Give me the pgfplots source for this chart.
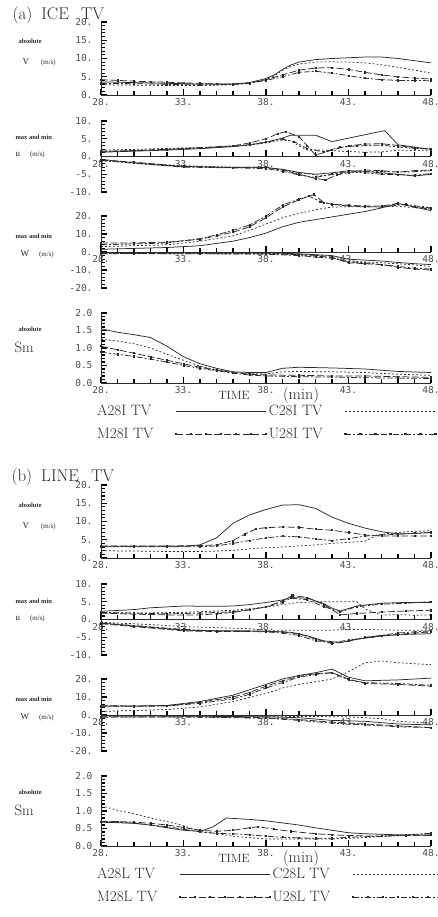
\documentclass[border=0pt]{standalone}
\usepackage{fontspec}
\usepackage{pgfplots}
\pgfplotsset{compat=1.18}
\newfontfamily\tickfont{DejaVu Sans Mono}
\newfontfamily\lblfont{Liberation Serif}
\definecolor{ink}{HTML}{2A2A2A}
\pgfplotsset{
 base/.style={
   scale only axis, width=330pt,
   xmin=28, xmax=48, clip=false,
   axis x line*=middle, axis y line*=left,
   axis line style={ink, line width=0.9pt},
   xtick={28,33,38,43,48}, minor x tick num=4,
   xticklabel={\pgfmathprintnumber{\tick}.},
   hide obscured x ticks=false, hide obscured y ticks=false,
   tick align=inside,
   major tick length=6pt, minor tick length=4.2pt,
   tick style={black, line width=1.1pt},
   ticklabel style={font=\tickfont\fontsize{9.5}{10}\selectfont, text=black!70},
   yticklabel style={xshift=-5pt},
   /pgf/number format/assume math mode=true,
   anchor=south west,
 },
 intlab/.style={yticklabel={\pgfmathprintnumber{\tick}.}},
 vax/.style={base, intlab, ymin=0, ymax=20, ytick={0,5,...,20}, minor y tick num=4, height=73pt},
 uax/.style={base, intlab, ymin=-10, ymax=10, ytick={-10,-5,...,10}, minor y tick num=4, height=71pt},
 wax/.style={base, intlab, ymin=-20, ymax=20, ytick={-20,-10,...,20}, minor y tick num=4, height=72pt},
 sax/.style={base, ymin=0, ymax=2, ytick={0,0.5,...,2}, minor y tick num=4, height=70pt,
   yticklabel={\pgfmathprintnumber[fixed,fixed zerofill,precision=1]{\tick}},
   legend columns=2, legend plot pos=right, legend cell align=left,
   legend style={draw=none, fill=none, at={(axis description cs:0,0)}, anchor=north west,
     xshift=-6pt, yshift=-20pt, font=\fontsize{15}{15}\selectfont, text=ink, row sep=7pt, inner sep=0pt,
     /tikz/every odd column/.append style={column sep=20pt},
     /tikz/every even column/.append style={column sep=0pt}},
   legend image code/.code={\draw[##1] plot coordinates {(0pt,0pt) (15pt,0pt) (30pt,0pt) (45pt,0pt) (60pt,0pt) (75pt,0pt) (90pt,0pt)};},
 },
 sA/.style={ink, solid, line width=0.75pt, mark=none},
 sC/.style={ink, dash pattern=on 1.8pt off 2.2pt, line width=0.75pt, mark=none},
 sM/.style={ink, dash pattern=on 7pt off 2.5pt, line width=0.75pt, mark=square*, mark size=0.6pt, mark options={solid}},
 sU/.style={ink, dash pattern=on 6pt off 2pt on 2pt off 2pt, line width=0.75pt, mark=square*, mark size=0.6pt, mark options={solid}},
}
\newcommand\smalllab[2]{\node[font=\lblfont\bfseries\fontsize{6.5}{7}\selectfont, text=ink, anchor=base west] at (#1) {#2};}
\newcommand\varlab[3]{\node[anchor=base west, text=ink, font=\lblfont] at (#1) {\fontsize{9}{9}\selectfont #2\hspace{#3}\fontsize{7}{7}\selectfont(m/s)};}
\begin{document}
\begin{tikzpicture}
%================ PANEL (a) ================
\begin{axis}[vax, at={(101pt,-95pt)}]
\addplot[sA] coordinates {(28,3.6)(29,3.5)(30,3.4)(31,3.3)(32,3.2)(33,3.1)(34,3.0)(35,3.0)(36,3.0)(37,3.4)(38,4.5)(38.5,5.5)(39,7)(39.5,8.2)(40,9)(41,9.7)(42,10)(43,10.2)(44,10.4)(45,10.4)(46,10)(47,9.4)(48,8.8)};
\addplot[sC] coordinates {(28,2.8)(30,2.7)(32,2.6)(34,2.6)(36,2.8)(37,3.2)(38,4.2)(38.5,5.2)(39,6.8)(39.5,7.8)(40,8.5)(41,9)(42,9.1)(43,9.0)(44,8.8)(45,8.3)(46,7.6)(47,6.8)(48,6)};
\addplot[sM] coordinates {(28,4.2)(29,4.0)(30,3.8)(31,3.6)(32,3.5)(33,3.3)(34,3.2)(35,3.0)(36,3.0)(37,3.3)(38,4.2)(39,5.5)(40,6.8)(41,7.4)(42,7.5)(43,7)(44,6.2)(45,5.5)(46,5)(47,4.6)(48,4.4)};
\addplot[sU] coordinates {(28,3.2)(30,3.1)(32,2.9)(34,2.8)(36,2.9)(37,3.2)(38,4)(39,5)(40,6.2)(41,6.5)(42,6)(43,5.3)(44,4.6)(45,4.2)(46,4)(47,4)(48,3.9)};
\end{axis}
\begin{axis}[uax, at={(101pt,-192pt)}]
\addplot[sA] coordinates {(28,1.2)(30,1.5)(32,1.8)(34,2.2)(36,2.8)(37,3.3)(38,4)(39,5.2)(39.5,6)(41,6)(42,4.2)(45.2,7.3)(46,3.3)(48,2)};
\addplot[sC] coordinates {(28,1.8)(30,2)(32,2.3)(34,2.5)(36,2.8)(37,3.2)(38,3.8)(39,4.6)(39.5,4.4)(40,3)(40.5,1.8)(41.5,1.8)(42.5,1.5)(44,1.2)(45,1.3)(46,1.8)(48,1.6)};
\addplot[sM] coordinates {(28,1.5)(30,1.7)(32,2)(34,2.5)(36,3)(37,3.8)(38,5)(38.7,6.4)(39.2,7)(40,5.6)(40.5,3)(41,0.4)(42,1.8)(43,3)(44,3.5)(45,3.6)(46,3.1)(47,2.4)(48,2)};
\addplot[sU] coordinates {(28,1.3)(30,1.6)(32,2)(34,2.4)(36,2.9)(37,3.3)(38,4.1)(39,4.9)(39.7,4.2)(40.5,2.2)(41.5,1.3)(42.5,2.6)(43.5,3)(45,3.2)(46,2.7)(47,2.3)(48,2.2)};
\addplot[sA] coordinates {(28,-0.8)(29,-1.3)(30,-1.8)(31,-2.2)(33,-2.8)(35,-3)(37,-3)(38,-3.1)(39,-3.6)(40,-4.5)(41,-5)(42,-4.6)(43,-4)(44,-4.2)(45,-4.6)(46,-5)(47,-5.5)(48,-5)};
\addplot[sC] coordinates {(28,-1.2)(30,-1.8)(33,-2.6)(36,-3)(38,-3.2)(39,-3.8)(40,-4.6)(41.5,-5.4)(43,-4.5)(45,-4.2)(46.5,-4.4)(48,-4)};
\addplot[sM] coordinates {(28,-1)(30,-1.6)(33,-2.8)(36,-3.1)(38,-3)(39,-3.8)(40,-5)(41,-6.2)(41.6,-6.6)(42.3,-5.2)(43,-4.5)(44,-3.8)(45,-4)(46,-4.4)(47,-4)(48,-3.8)};
\addplot[sU] coordinates {(28,-1.1)(30,-1.9)(33,-3)(36,-3.2)(38,-3.4)(39,-4.2)(40,-5.2)(41,-5.9)(42,-5)(43,-4.2)(44,-4.6)(45,-5)(46,-5.1)(47,-5.3)(48,-4.8)};
\end{axis}
\begin{axis}[wax, at={(101pt,-288pt)}]
\addplot[sA] coordinates {(28,1.5)(30,2)(32,2.5)(34,3.5)(36,6)(37,8)(38,10.5)(39,14)(40,16.5)(41,18)(42,19.5)(43,21)(44,22.5)(45,24.5)(46,27)(47,25)(48,23)};
\addplot[sC] coordinates {(28,3)(30,3.5)(32,4)(34,6)(36,9)(37,12)(38,15.5)(39,19)(40,21.5)(41,23.5)(42,25)(43,25.2)(44,25)(45,25)(46,25.5)(47,24.5)(48,24)};
\addplot[sM] coordinates {(28,5)(30,5)(32,5.5)(34,7)(35,9)(36,11)(37,14)(38,19)(39,25)(40,29)(40.9,32)(41.5,27.5)(42,26.5)(43,26)(44,25.5)(45,25.5)(46,27)(47,25)(48,24)};
\addplot[sU] coordinates {(28,4)(30,4.5)(32,5)(34,7.5)(35,9.5)(36,12)(37,15)(38,20)(39,26)(40,29.5)(40.6,31)(41.3,28)(42,26.5)(43,25.5)(44,25.2)(45,25)(46.5,26.5)(47.5,25)(48,24.5)};
\addplot[sA] coordinates {(28,-0.3)(34,-0.5)(38,-0.5)(40,-1)(41,-1.5)(42,-2)(43,-4)(44,-4.5)(45,-5)(46,-5.8)(47,-6.5)(48,-7)};
\addplot[sC] coordinates {(28,-0.5)(34,-0.7)(38,-0.8)(40,-1.2)(41,-1.8)(42,-2.5)(43,-5)(44,-5.5)(45,-6)(46,-6.5)(47,-7.2)(48,-8)};
\addplot[sM] coordinates {(28,-1)(30,-0.8)(34,-1)(38,-1)(40,-1.5)(41,-2.2)(42,-3)(43,-6)(44,-6.5)(45,-7)(46,-8.5)(47,-9.5)(48,-10)};
\addplot[sU] coordinates {(28,-0.8)(34,-1)(38,-1.2)(40,-2)(41,-2.8)(42,-3.5)(43,-5.5)(44,-6)(45,-7)(46,-8)(47,-9)(48,-9.5)};
\end{axis}
\begin{axis}[sax, at={(101pt,-383pt)}]
\addplot[sA] coordinates {(28,1.55)(29,1.45)(30,1.38)(31,1.3)(32,1.05)(33,0.75)(34,0.55)(35,0.42)(36,0.32)(37,0.3)(38,0.3)(39,0.42)(40,0.45)(42,0.43)(44,0.4)(46,0.33)(48,0.3)};
\addlegendentry{A28I TV}
\addplot[sC] coordinates {(28,1.25)(29,1.2)(30,1.12)(31,1.0)(32,0.82)(33,0.65)(34,0.48)(35,0.38)(36,0.3)(37,0.27)(38,0.26)(39,0.32)(40,0.33)(42,0.32)(44,0.3)(46,0.25)(48,0.22)};
\addlegendentry{C28I TV}
\addplot[sM] coordinates {(28,1.05)(29,0.95)(30,0.85)(31,0.75)(32,0.65)(33,0.55)(34,0.45)(35,0.37)(36,0.3)(37,0.25)(38,0.23)(40,0.22)(42,0.2)(44,0.2)(46,0.18)(48,0.16)};
\addlegendentry{M28I TV}
\addplot[sU] coordinates {(28,0.88)(29,0.82)(30,0.76)(31,0.68)(32,0.6)(33,0.5)(34,0.42)(35,0.35)(36,0.28)(37,0.23)(38,0.2)(40,0.18)(42,0.17)(44,0.15)(46,0.14)(48,0.13)};
\addlegendentry{U28I TV}
\end{axis}
%================ PANEL (b) ================
\begin{axis}[vax, at={(101pt,-558pt)}]
\addplot[sA] coordinates {(28,3.2)(30,3.2)(32,3.2)(33,3.2)(34,3.6)(35,5.5)(36,9.5)(37,11.8)(38,13.3)(39,14.5)(40,14.6)(41,13.6)(42,11.2)(43,9.5)(44,8.2)(45,7.2)(46,6.6)(47,6.7)(48,7)};
\addplot[sC] coordinates {(28,2)(30,1.9)(32,1.8)(34,1.8)(35,1.9)(36,2.1)(37,2.5)(38,2.8)(39,3)(40,3.3)(41,3.6)(42,4)(43,4.3)(44,4.6)(44.6,6)(45,6.5)(46,7)(47,7.3)(48,7.5)};
\addplot[sM] coordinates {(28,3.3)(30,3.3)(32,3.3)(34,3.4)(35,3.6)(36,4.8)(36.7,6.5)(37.4,8)(38,8.3)(39,8.5)(40,8.4)(41,7.9)(42,7.6)(43,7)(44,6.3)(45,6)(46,6)(47,6)(48,6)};
\addplot[sU] coordinates {(28,3.1)(30,3.1)(32,3.1)(34,3.1)(35,3.3)(36,4)(37,4.8)(38,5.5)(39,6)(40,5.8)(41,5.2)(42,4.8)(43,5.3)(44,6)(45,6.3)(46,6.5)(47,6.8)(48,7)};
\end{axis}
\begin{axis}[uax, at={(101pt,-655pt)}]
\addplot[sA] coordinates {(28,2.3)(30,2.8)(31,3.3)(33,3.8)(35,3.7)(36,3.8)(37,4.2)(38,4.8)(39,5.5)(39.5,6.2)(40.5,6)(41.5,4.5)(42,3.2)(42.5,2.4)(43.5,3.8)(45,4.6)(46.5,4.8)(48,4.8)};
\addplot[sC] coordinates {(28,1.8)(30,1.8)(33,2)(36,2.6)(38,3.5)(39,4.2)(40,4.8)(41,5)(42,5)(43.5,5)(44,3)(45,1.2)(46,1.4)(47,1.2)(48,1.3)};
\addplot[sM] coordinates {(28,1.8)(30,1.5)(32,1.3)(34,1.3)(35,1.6)(36,2)(37,2.7)(38,3.6)(39,5.2)(39.6,6.8)(40.5,6.2)(41.5,4.2)(42.5,1.3)(43.5,1.7)(45,2.1)(46.5,2.4)(48,2.6)};
\addplot[sU] coordinates {(28,2)(30,1.8)(32,1.6)(34,1.8)(36,2.2)(37,2.8)(38,3.5)(39,4.8)(39.5,6)(40.5,5.6)(41.5,3.6)(42.5,2.2)(43.5,3.6)(45,4.3)(46.5,4.6)(48,5)};
\addplot[sA] coordinates {(28,-1)(30,-1.8)(32,-2.6)(33,-3)(35,-3.2)(37,-3.2)(38,-3.3)(39.5,-3.6)(40.5,-4.6)(41.5,-6)(42.5,-6.5)(43.5,-5.6)(45,-4.6)(46.5,-4.2)(48,-4)};
\addplot[sC] coordinates {(28,-0.8)(30,-1.2)(32,-1.7)(33,-2)(35,-2.3)(37,-2.6)(38,-3)(40,-3)(42,-3)(43,-2.8)(44,-2.8)(46,-3)(48,-3)};
\addplot[sM] coordinates {(28,-1.2)(30,-2)(33,-3.2)(35,-3.4)(38,-3.3)(39,-3.5)(40,-4)(41,-5.5)(42,-6.8)(43,-6.1)(44,-5)(45,-4.6)(46,-4.2)(47,-3.8)(48,-3.5)};
\addplot[sU] coordinates {(28,-1)(30,-1.7)(33,-2.8)(35,-3.2)(38,-3.5)(39,-3.8)(40,-4.5)(41,-6)(42,-6.5)(43,-5.8)(44.5,-4.8)(46,-3.8)(47,-3.5)(48,-3.2)};
\end{axis}
\begin{axis}[wax, at={(101pt,-751pt)}]
\addplot[sA] coordinates {(28,5)(30,5)(32,5.3)(34,7.5)(36,11)(37,14)(38,17)(39,20)(40,22)(41,23.5)(42,25.5)(43,21)(44,19)(46,19.5)(48,20.5)};
\addplot[sC] coordinates {(28,2)(30,2.5)(32,3)(34,4.5)(36,7.5)(38,12)(39,15)(40,17)(41,18.5)(42,20)(43,24)(44,29)(45,30)(46,29)(48,28)};
\addplot[sM] coordinates {(28,5.2)(30,5)(32,5.2)(34,7)(36,10)(37,12.5)(38,16)(39,19)(40,21.5)(41,23)(42,23.5)(43,20)(44,17.5)(46,17)(48,16)};
\addplot[sU] coordinates {(28,4.8)(30,4.8)(32,5)(34,6.5)(36,9)(37,11.5)(38,15)(39,18)(40,21)(41,22.5)(42,23.5)(43,19.5)(44,18)(46,17.5)(48,16.5)};
\addplot[sA] coordinates {(28,-0.5)(34,-0.7)(38,-1)(40,-1.5)(42,-3)(44,-3.5)(46,-5)(48,-5.5)};
\addplot[sC] coordinates {(28,-0.3)(36,-0.5)(40,-0.8)(43,-1)(45,-2)(46,-3.5)(48,-4.5)};
\addplot[sM] coordinates {(28,-1.2)(34,-1)(38,-1.5)(40,-2.5)(42,-4)(44,-5)(46,-6)(48,-7)};
\addplot[sU] coordinates {(28,-1)(34,-1.2)(38,-1.8)(40,-3)(42,-4.5)(44,-5.5)(46,-6.5)(48,-7)};
\end{axis}
\begin{axis}[sax, at={(101pt,-846pt)}]
\addplot[sA] coordinates {(28,0.68)(30,0.65)(31,0.6)(32,0.52)(33,0.45)(34,0.42)(34.8,0.55)(35.6,0.8)(37,0.76)(38,0.72)(39,0.66)(40,0.6)(41,0.52)(42,0.45)(43,0.38)(44,0.35)(46,0.32)(48,0.3)};
\addlegendentry{A28L TV}
\addplot[sC] coordinates {(28,1.15)(29,1.02)(30,0.92)(31,0.8)(32,0.7)(33,0.58)(34,0.42)(35,0.36)(36,0.28)(37,0.24)(38,0.2)(40,0.2)(42,0.2)(44,0.24)(46,0.3)(48,0.36)};
\addlegendentry{C28L TV}
\addplot[sM] coordinates {(28,0.7)(29,0.7)(30,0.68)(31,0.65)(32,0.6)(33,0.53)(34,0.45)(35,0.42)(36,0.45)(37,0.52)(37.5,0.55)(38.5,0.48)(39.5,0.42)(41,0.35)(42,0.32)(43,0.3)(45,0.28)(46.5,0.3)(48,0.32)};
\addlegendentry{M28L TV}
\addplot[sU] coordinates {(28,0.7)(29,0.68)(30,0.65)(31,0.6)(32,0.55)(33,0.48)(34,0.4)(35,0.36)(36,0.35)(37,0.32)(38,0.28)(39,0.25)(40,0.23)(41,0.22)(42,0.22)(43,0.25)(45,0.28)(46.5,0.32)(48,0.36)};
\addlegendentry{U28L TV}
\end{axis}
%================ TEXT ================
\node[anchor=base west, text=ink, font=\fontsize{17}{17}\selectfont] at (9pt,-20pt) {(a)\hspace{9pt}ICE\hspace{12pt}TV};
\node[anchor=base west, text=ink, font=\fontsize{17}{17}\selectfont] at (8pt,-481pt) {(b)\hspace{9pt}LINE\hspace{12pt}TV};
\foreach \dy in {0,463}{
  \smalllab{15pt,-44pt-\dy pt}{absolute}
  \varlab{19pt,-65pt-\dy pt}{V}{12pt}
  \smalllab{12pt,-140pt-\dy pt}{max and min}
  \varlab{12pt,-157pt-\dy pt}{u}{10pt}
  \smalllab{12pt,-238pt-\dy pt}{max and min}
  \varlab{17pt,-256pt-\dy pt}{W}{10pt}
  \smalllab{15pt,-331pt-\dy pt}{absolute}
  \node[anchor=base west, text=ink, font=\fontsize{15}{15}\selectfont] at (11pt,-352pt-\dy pt) {Sm};
  \node[anchor=base, text=ink, font=\fontsize{12}{12}\selectfont] at (234pt,-399pt-\dy pt) {TIME};
  \node[anchor=base, text=ink, font=\fontsize{16}{16}\selectfont] at (301pt,-399pt-\dy pt) {(min)};
}
\pgfresetboundingbox
\useasboundingbox (0pt,0pt) rectangle (438pt,-917pt);
\end{tikzpicture}
\end{document}
